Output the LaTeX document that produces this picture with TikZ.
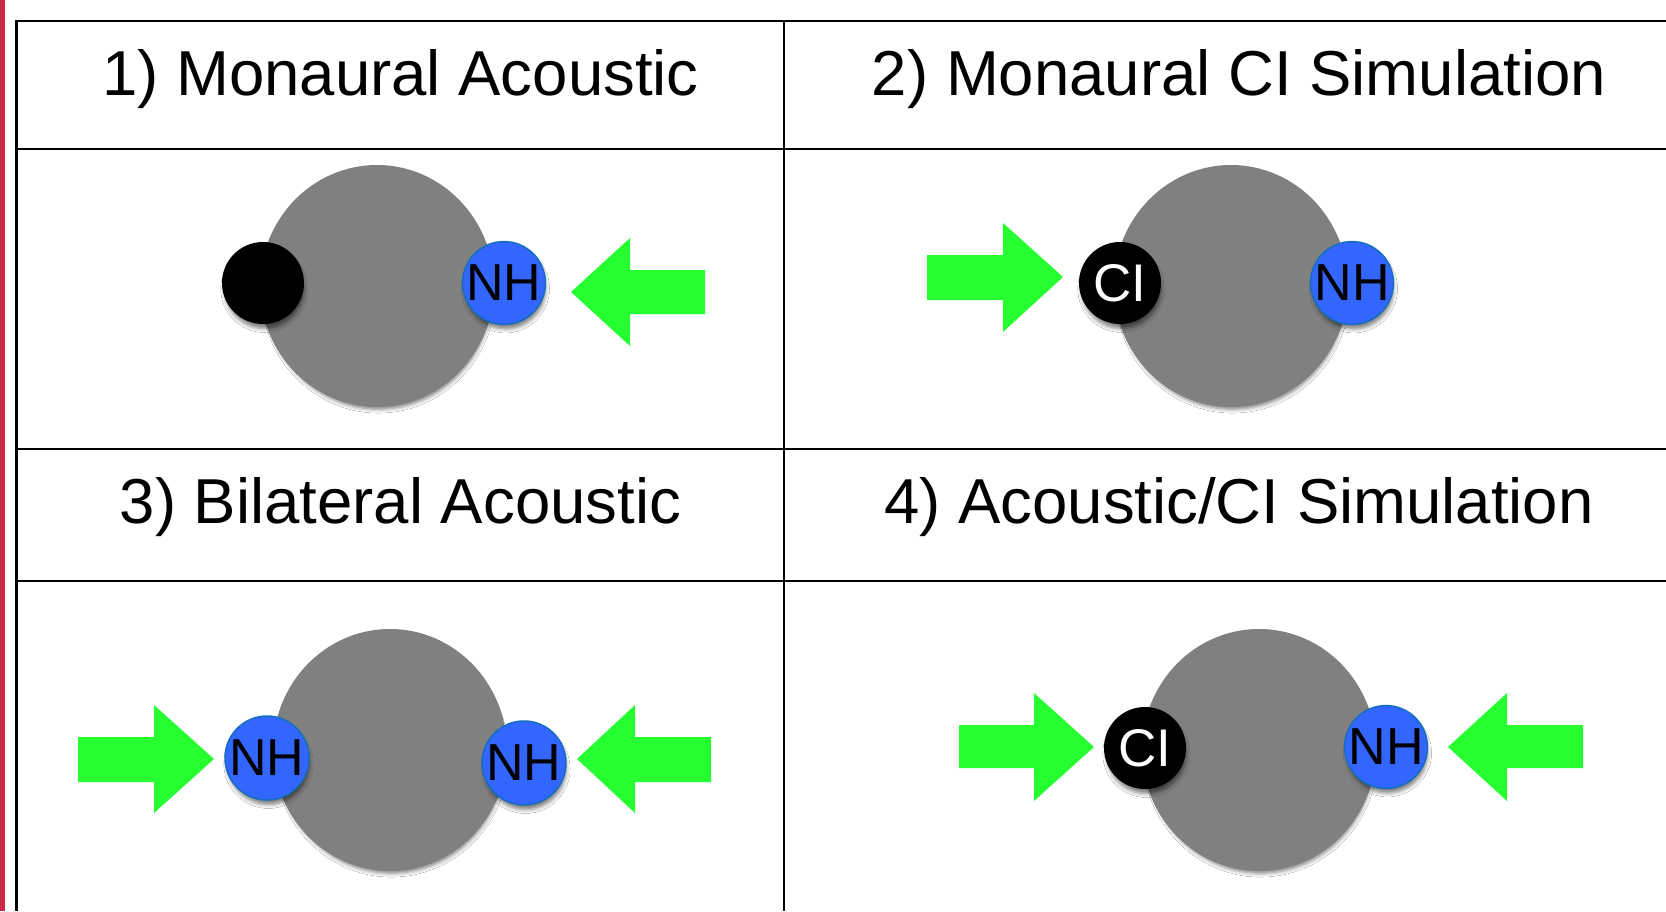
\documentclass[tikz,border=0pt]{standalone}
\usepackage{fontspec}
\setmainfont{Liberation Sans}
\usetikzlibrary{shapes.geometric,shadows.blur}
\definecolor{nhblue}{RGB}{51,102,255}
\definecolor{nhedge}{RGB}{20,110,190}
\definecolor{argreen}{RGB}{38,255,48}
\definecolor{headgray}{RGB}{128,128,128}
\definecolor{redbar}{RGB}{204,41,73}
\begin{document}
\begin{tikzpicture}[x=1pt,y=-1pt,
  tabline/.style={draw=black,line width=2pt},
  title/.style={anchor=base,inner sep=0pt,font=\fontsize{63.5}{70}\selectfont},
  softshadow/.style={blur shadow={shadow xshift=1.5pt,shadow yshift=-6pt,shadow scale=0.97,shadow blur radius=4pt,shadow opacity=50}},
  headnode/.style={ellipse,fill=headgray,minimum width=234pt,minimum height=242pt,inner sep=0pt,softshadow},
  ear/.style={circle,minimum size=82pt,inner sep=0pt,softshadow},
  nh/.style={ear,fill=nhblue,draw=nhedge,line width=1.5pt,text=black,font=\fontsize{52}{52}\selectfont},
  ci/.style={ear,fill=black,text=white,font=\fontsize{53}{53}\selectfont},
  blank/.style={ear,fill=black},
  greenarrow/.style={fill=argreen}
]
\useasboundingbox (0,0) rectangle (1666,911);
\fill[white] (0,0) rectangle (1666,911);
\fill[redbar] (0,0) rectangle (5,911);

% table
\draw[tabline] (16,21) -- (1666,21);
\draw[tabline] (16,149) -- (1666,149);
\draw[tabline] (16,449) -- (1666,449);
\draw[tabline] (16,581) -- (1666,581);
\draw[tabline,line width=3pt] (16,20) -- (16,911);
\draw[tabline] (784,20) -- (784,911);

% titles
\node[title] (t1) at (400.5,95) {1) Monaural Acoustic};
\node[title] (t2) at (1239,95) {2) Monaural CI Simulation};
\node[title] (t3) at (400.5,523) {3) Bilateral Acoustic};
\node[title] (t4) at (1239,523) {4) Acoustic/CI Simulation};

% panel 1
\node[headnode] (h1) at (377,286) {};
\node[blank] (l1) at (263,283) {};
\node[nh] (r1) at (504,283) {NH};
\fill[greenarrow] (571,292) -- (630,238) -- (630,270) -- (705,270) -- (705,314) -- (630,314) -- (630,346) -- cycle;

% panel 2
\node[headnode] (h2) at (1231,286) {};
\node[ci] (l2) at (1120,283) {CI};
\node[nh] (r2) at (1352,283) {NH};
\fill[greenarrow] (927,255) -- (1003,255) -- (1003,223) -- (1063,277) -- (1003,332) -- (1003,300) -- (927,300) -- cycle;

% panel 3
\node[headnode] (h3) at (390,750) {};
\node[nh,minimum height=84pt] (l3) at (267,758) {NH};
\node[nh,minimum height=84pt] (r3) at (524,763) {NH};
\fill[greenarrow] (78,737) -- (154,737) -- (154,705) -- (214,759) -- (154,813) -- (154,782) -- (78,782) -- cycle;
\fill[greenarrow] (577,759) -- (635,705) -- (635,737) -- (711,737) -- (711,782) -- (635,782) -- (635,813) -- cycle;

% panel 4
\node[headnode] (h4) at (1259,750) {};
\node[ci] (l4) at (1145,748) {CI};
\node[nh] (r4) at (1386,747) {NH};
\fill[greenarrow] (959,725) -- (1034,725) -- (1034,693) -- (1094,747) -- (1034,801) -- (1034,768) -- (959,768) -- cycle;
\fill[greenarrow] (1448,747) -- (1507,693) -- (1507,725) -- (1583,725) -- (1583,768) -- (1507,768) -- (1507,801) -- cycle;
\end{tikzpicture}
\end{document}
